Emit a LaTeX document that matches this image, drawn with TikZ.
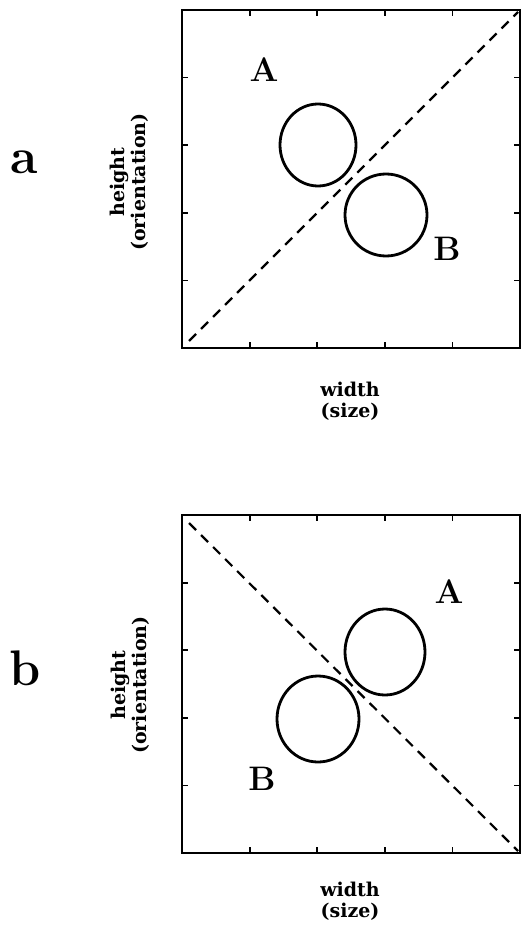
\documentclass[tikz,border=0pt]{standalone}
\usepackage{fontspec}
\usepackage{tikz}
\newfontfamily\axisfont{DejaVu Serif}

\begin{document}
\begin{tikzpicture}[
  x=1pt, y=-1pt,
  frame/.style={line width=2.8pt},
  tick/.style={line width=1.8pt},
  diag/.style={dashed, dash pattern=on 10pt off 7pt, line width=2.2pt},
  blob/.style={line width=2.8pt},
  letter/.style={font=\fontsize{34}{34}\selectfont\bfseries},
  panel/.style={font=\fontsize{50}{50}\selectfont\bfseries},
  axis/.style={font=\axisfont\bfseries\fontsize{19}{21}\selectfont, align=center, inner sep=0pt}
]
  \useasboundingbox (0,0) rectangle (521,936);

  % Panel a
  \draw[frame] (182,10) rectangle (520,348);
  \foreach \i in {1,...,4} {
    \draw[tick] (182+67.6*\i,10) -- ++(0,6);
    \draw[tick] (182+67.6*\i,348) -- ++(0,-6);
    \draw[tick] (182,10+67.6*\i) -- ++(6,0);
    \draw[tick] (520,10+67.6*\i) -- ++(-6,0);
  }
  \coordinate (alo) at (189,341);
  \coordinate (ahi) at (518,12);
  \draw[diag] (alo) -- (ahi);
  \draw[blob] (318,145) ellipse [x radius=38pt, y radius=41pt];
  \draw[blob] (386,215) ellipse [x radius=41pt, y radius=41pt];
  \node[letter] (aA) at (264,70) {A};
  \node[letter] (aB) at (447,249) {B};
  \node[panel] (pa) at (24,162) {a};
  \node[axis, rotate=90] (ah) at (129,182) {height\\(orientation)};
  \node[axis] (aw) at (350,401) {width\\(size)};

  % Panel b
  \draw[frame] (182,515) rectangle (520,853);
  \foreach \i in {1,...,4} {
    \draw[tick] (182+67.6*\i,515) -- ++(0,6);
    \draw[tick] (182+67.6*\i,853) -- ++(0,-6);
    \draw[tick] (182,515+67.6*\i) -- ++(6,0);
    \draw[tick] (520,515+67.6*\i) -- ++(-6,0);
  }
  \coordinate (blo) at (189,523);
  \coordinate (bhi) at (518,851);
  \draw[diag] (blo) -- (bhi);
  \draw[blob] (385,652) ellipse [x radius=40pt, y radius=43pt];
  \draw[blob] (318,719) ellipse [x radius=41pt, y radius=43pt];
  \node[letter] (bA) at (449,592) {A};
  \node[letter] (bB) at (262,779) {B};
  \node[panel] (pb) at (25,668) {b};
  \node[axis, rotate=90] (bh) at (130,685) {height\\(orientation)};
  \node[axis] (bw) at (350,901) {width\\(size)};
\end{tikzpicture}
\end{document}
